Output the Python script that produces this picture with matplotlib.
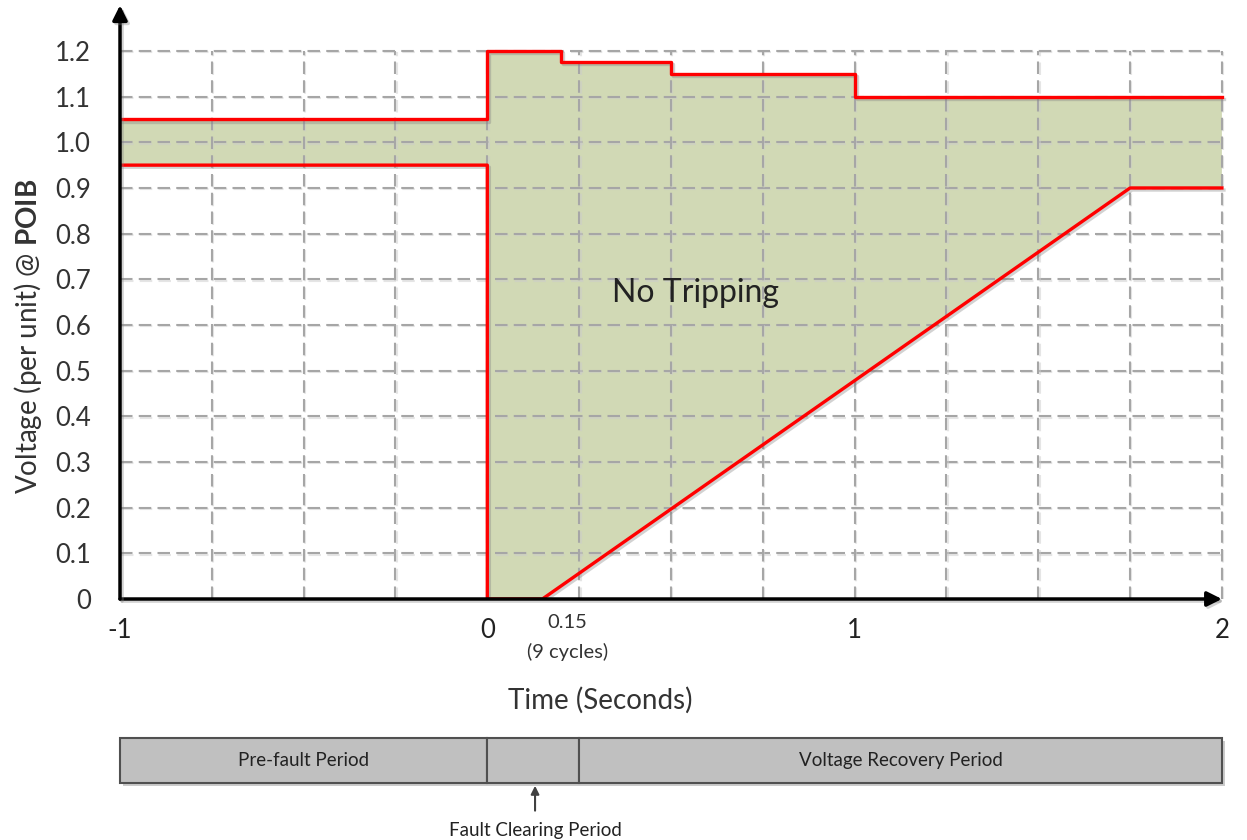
import matplotlib
matplotlib.use("Agg")
import matplotlib.pyplot as plt
import matplotlib.patheffects as pe
import numpy as np

plt.rcParams["font.family"] = ["Lato", "DejaVu Sans"]
plt.rcParams["mathtext.fontset"] = "custom"
plt.rcParams["mathtext.rm"] = "Lato"
plt.rcParams["mathtext.bf"] = "Lato:bold"

# upper ride-through limit (step levels between edges)
upper_edges = [-1.0, 0.0, 0.2, 0.5, 1.0, 2.0]
upper_levels = [1.05, 1.2, 1.175, 1.15, 1.1]

# lower ride-through limit (piecewise linear)
lower_t = [-1.0, 0.0, 0.0, 0.15, 1.75, 2.0]
lower_v = [0.95, 0.95, 0.0, 0.0, 0.9, 0.9]

y_ticks = [0, 0.1, 0.2, 0.3, 0.4, 0.5, 0.6, 0.7, 0.8, 0.9, 1.0, 1.1, 1.2]
y_ticklabels = ["0", "0.1", "0.2", "0.3", "0.4", "0.5", "0.6", "0.7", "0.8", "0.9", "1.0", "1.1", "1.2"]
x_ticks = [-1, 0, 1, 2]
x_ticklabels = ["-1", "0", "1", "2"]
grid_x = np.arange(-0.75, 2.01, 0.25)

period_starts = [-1.0, 0.0, 0.25]
period_ends = [0.0, 0.25, 2.0]
period_labels = ["Pre-fault Period", "", "Voltage Recovery Period"]

RED = "#ff0000"
FILL = "#d1d9b5"
GRID = "#a6a6a6"

shadow = [pe.SimpleLineShadow(offset=(1.5, -1.5), shadow_color="0.5", alpha=0.35), pe.Normal()]

fig = plt.figure(figsize=(12.47, 8.4), dpi=100)
ax = fig.add_axes([120 / 1247, 1 - 599 / 840, 3.05 * 367.3 / 1247, 1.31 * 456.7 / 840])
ax.set_xlim(-1, 2.05)
ax.set_ylim(0, 1.31)
for s in ax.spines.values():
    s.set_visible(False)

# stepped upper line from edges/levels
ux = np.repeat(upper_edges, 2)[1:-1]
uy = np.repeat(upper_levels, 2)

# shaded no-trip region
poly_x = np.concatenate([ux, lower_t[::-1]])
poly_y = np.concatenate([uy, lower_v[::-1]])
ax.fill(poly_x, poly_y, color=FILL, lw=0, zorder=1)

# dashed grid
grid_fx = [pe.SimpleLineShadow(offset=(1, -1), shadow_color="0.8", alpha=0.5), pe.Normal()]
ax.hlines(y_ticks[1:], -1, 2.0, colors=GRID, linestyles=(0, (6, 3)), lw=1.5, zorder=2,
          path_effects=grid_fx)
ax.vlines(grid_x, 0, 1.2, colors=GRID, linestyles=(0, (6, 3)), lw=1.5, zorder=2,
          path_effects=grid_fx)

ax.plot(ux, uy, color=RED, lw=2.4, zorder=4, path_effects=shadow)
ax.plot(lower_t, lower_v, color=RED, lw=2.4, zorder=4, path_effects=shadow)

# axes with arrowheads
for tip in [(2.0, 0), (-1, 1.30)]:
    a = ax.annotate("", xy=tip, xytext=(-1, 0),
                    arrowprops=dict(arrowstyle="-|>", lw=2.5, color="black",
                                    mutation_scale=22, shrinkA=0, shrinkB=0),
                    zorder=5)
    a.arrow_patch.set_path_effects(shadow)

ax.set_yticks(y_ticks)
ax.set_yticklabels(y_ticklabels, fontsize=18.5, color="#333333")
ax.set_xticks(x_ticks)
ax.set_xticklabels(x_ticklabels, fontsize=18.5, color="#222222")
ax.tick_params(axis="y", length=0, pad=21)
ax.tick_params(axis="x", length=0, pad=14)
ax.get_xticklabels()[-1].set_x(1.98)

ax.annotate("0.15\n(9 cycles)", xy=(0.218, 0), xycoords="data", xytext=(0, -11),
            textcoords="offset points", ha="center", va="top", fontsize=14.5,
            color="#333333", linespacing=1.75)

ax.text(0.566, 0.67, "No Tripping", fontsize=23, ha="center", va="center", color="#222222")

fig.text(600 / 1247, 1 - 700 / 840, "Time (Seconds)", fontsize=20, ha="center", va="center",
         color="#333333")
fig.text(28 / 1247, 1 - 336 / 840, r"Voltage (per unit) @ $\bf{POIB}$", fontsize=20,
         rotation=90, ha="center", va="center", color="#333333")

# period bar below the time axis
bx = fig.add_axes([120 / 1247, 1 - 783 / 840, 3.05 * 367.3 / 1247, 45 / 840])
bx.set_xlim(-1, 2.05)
bx.set_ylim(0, 1)
bx.axis("off")
for s0, s1, lab in zip(period_starts, period_ends, period_labels):
    bx.bar(s0, 1, width=s1 - s0, align="edge", color="#c0c0c0", edgecolor="#505050", lw=1.5,
           clip_on=False,
           path_effects=[pe.SimplePatchShadow(offset=(2, -2), shadow_rgbFace="0.6", alpha=0.5), pe.Normal()])
    if lab:
        bx.text((s0 + s1) / 2, 0.5, lab, ha="center", va="center", fontsize=13.5, color="#222222")

bx.annotate("Fault Clearing Period", xy=(0.13, 0), xycoords="data", xytext=(0.13, -1.05),
            textcoords="data", ha="center", va="center", fontsize=13.5, color="#222222",
            arrowprops=dict(arrowstyle="-|>", color="#404040", lw=1.5, shrinkA=6, shrinkB=2,
                            mutation_scale=12),
            annotation_clip=False)

fig.savefig("out.png", dpi=100)
